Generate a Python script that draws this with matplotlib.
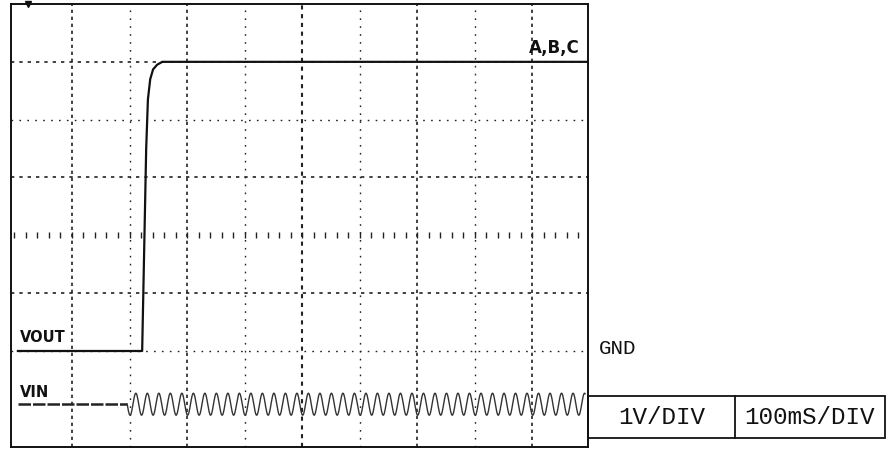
import numpy as np
import matplotlib.pyplot as plt
from matplotlib.patches import Rectangle

# time axis in ms (100 ms/div), vertical axis in divisions (1 V/div)
x_divs = [100, 200, 300, 400, 500, 600, 700, 800, 900]
y_divs = [1, 2, 3, 4, 5, 6]

# VOUT: starts at GND (row 1), steps up to 5 V
vout_gnd_div = 1.0
vout_t = [6, 222, 229, 232, 236, 241, 248, 257, 994]
vout_v = [0.0, 0.0, 3.5, 4.35, 4.7, 4.87, 4.95, 5.0, 5.0]

# VIN: flat until the supply is switched on, then 50 Hz ripple
vin_level_div = 0.08
vin_on_t = [6, 196]
vin_start_ms = 196
vin_end_ms = 992
vin_freq_hz = 50
vin_amp_div = 0.19

W, H = 890, 450
fig = plt.figure(figsize=(W / 100, H / 100), dpi=100)
ax = fig.add_axes([11 / W, (H - 447) / H, (588 - 11) / W, (447 - 4) / H])
ax.set_xlim(-6, 997)
ax.set_ylim(-0.66, 7.0)
ax.set_xticks([])
ax.set_yticks([])
for s in ax.spines.values():
    s.set_linewidth(1.4)
    s.set_color('#111111')

ink = '#222222'
dense = (0, (2, 3))
sparse = (0, (1.2, 4.5))

# graticule: columns alternate dense / sparse, center row carries minor ticks
for i, x in enumerate(x_divs):
    if i % 2 == 0:
        ax.axvline(x, color=ink, lw=1.2 if x != 500 else 1.5, linestyle=(0, (2, 2.2)))
    else:
        ax.axvline(x, color=ink, lw=1.0, linestyle=sparse)

for y in y_divs:
    if y == 3:
        minor = np.arange(0, 1000, 20)
        ax.plot(minor, np.full(len(minor), y), linestyle='none', marker='|',
                markersize=4, markeredgewidth=1.0, color=ink)
    elif y % 2 == 0:
        ax.axhline(y, color=ink, lw=1.2, linestyle=dense)
    else:
        ax.axhline(y, color=ink, lw=1.0, linestyle=sparse)

# traces
ax.plot(vout_t, np.array(vout_v) + vout_gnd_div, color='#111111', lw=1.6,
        solid_joinstyle='round')

ax.plot(vin_on_t, [vin_level_div] * 2, color='#222222', lw=1.8,
        linestyle=(0, (5, 0.8)))
t = np.linspace(vin_start_ms, vin_end_ms, 4000)
vin = vin_level_div - vin_amp_div * np.sin(2 * np.pi * vin_freq_hz * (t - vin_start_ms) / 1000)
ax.plot(t, vin, color='#333333', lw=1.0)

# trigger mark on the top edge
ax.plot([23], [7.0], marker='v', markersize=4, color='#111111', clip_on=False)

lbl = dict(family='DejaVu Sans', fontweight='bold', fontsize=10.5, color='#111111')
ax.text(9, 1.1, 'VOUT', ha='left', va='bottom', **lbl)
ax.text(9, 0.16, 'VIN', ha='left', va='bottom', **lbl)
ax.text(982, 6.08, 'A,B,C', ha='right', va='bottom',
        **{**lbl, 'fontsize': 12})

mono = dict(family='Liberation Mono', color='#111111')
fig.text(599 / W, (H - 349) / H, 'GND', ha='left', va='center', fontsize=15, **mono)

# scale box in the lower right corner
box_l, box_r, box_b, box_t, box_mid = 588, 885, 438, 396, 735
fig.add_artist(Rectangle((box_l / W, (H - box_b) / H), (box_r - box_l) / W,
                         (box_b - box_t) / H, transform=fig.transFigure,
                         fill=False, lw=1.3, edgecolor='#111111'))
fig.add_artist(plt.Line2D([box_mid / W] * 2, [(H - box_b) / H, (H - box_t) / H],
                          transform=fig.transFigure, lw=1.3, color='#111111'))
cy = (H - (box_b + box_t) / 2) / H
fig.text((box_l + box_mid) / 2 / W, cy, '1V/DIV', ha='center', va='center', fontsize=17.5, **mono)
fig.text((box_mid + box_r) / 2 / W, cy, '100mS/DIV', ha='center', va='center', fontsize=17.5, **mono)

fig.savefig('out.png', dpi=100)
